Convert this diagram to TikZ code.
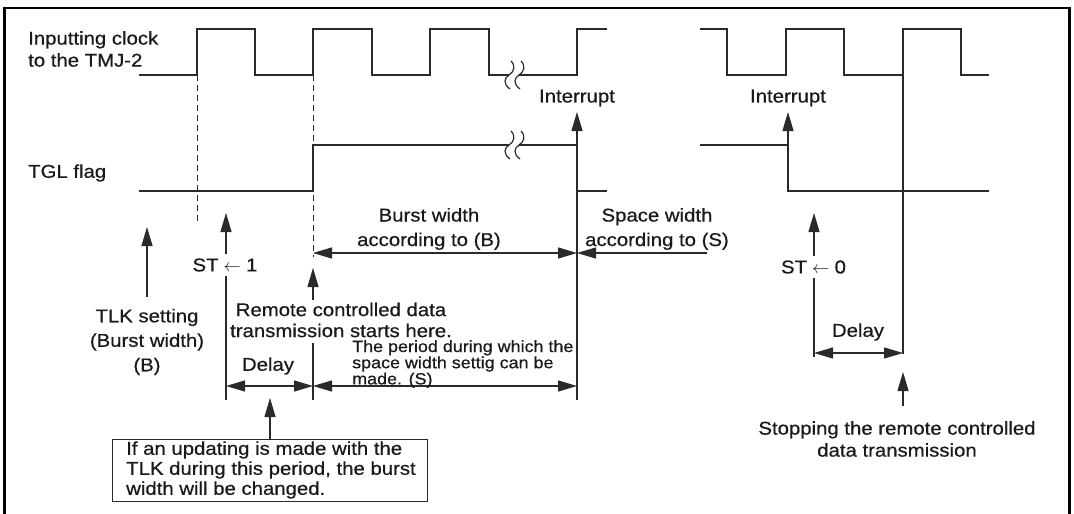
\documentclass[tikz,border=0pt]{standalone}
\usepackage{fontspec}
\setmainfont[FakeStretch=1.1,FakeBold=0.6]{Liberation Sans}
\usetikzlibrary{arrows.meta}
\definecolor{ink}{HTML}{2A2A2A}
\definecolor{txt}{HTML}{1A1A1A}
\tikzset{
  wave/.style={draw=ink, line width=1.5pt, line join=miter},
  thin/.style={draw=ink, line width=1.1pt},
  dash line/.style={draw=ink, line width=1pt, dash pattern=on 6pt off 4pt},
  tip/.style={-{Triangle[length=19pt,width=11pt]}},
  both tips/.style={{Triangle[length=19pt,width=11pt]}-{Triangle[length=19pt,width=11pt]}},
  lbl/.style={text=txt, font=\fontsize{18.5}{22}\selectfont, inner sep=0pt, align=center},
  small/.style={text=txt, font=\fontsize{16.3}{15}\selectfont, inner sep=0pt, align=left},
  brk/.pic={\draw[ink, line width=1.2pt] (2,-14) .. controls (7,-9) and (5,-3) .. (0,0) .. controls (-5,3) and (-6,9) .. (1,14);}
}
\begin{document}
\begin{tikzpicture}[x=1pt,y=-1pt]
\useasboundingbox (0,0) rectangle (1074,514);
% frame
\draw[line width=2.6pt, black] (4.5,516) -- (4.5,8) -- (1069.5,8) -- (1069.5,516);

% signal labels
\node[lbl, align=left, anchor=west] (clk) at (28,49) {Inputting clock\\to the TMJ-2};
\node[lbl, anchor=west] (tgl) at (28,173) {TGL flag};

% clock waveform (left)
\draw[wave] (139,75) -- (197,75) -- (197,29) -- (255,29) -- (255,75) -- (313,75) -- (313,29)
  -- (372,29) -- (372,75) -- (430,75) -- (430,29) -- (489,29) -- (489,75) -- (509,75);
\draw[wave] (519,75) -- (577,75) -- (577,29) -- (607,29);
\pic at (509,75) {brk};
\pic at (519,75) {brk};
% clock waveform (right)
\draw[wave] (700,29) -- (727,29) -- (727,75) -- (786,75) -- (786,29) -- (844,29) -- (844,75)
  -- (903,75) -- (903,29) -- (961,29) -- (961,75) -- (989,75);

% TGL flag (left)
\draw[wave] (139,191) -- (313,191) -- (313,145) -- (509,145);
\draw[wave] (519,145) -- (577,145) -- (577,191) -- (607,191);
\pic at (509,145) {brk};
\pic at (519,145) {brk};
% TGL flag (right)
\draw[wave] (700,145) -- (788,145) -- (788,191) -- (989,191);

% interrupts
\node[lbl] (int1) at (577,98) {Interrupt};
\node[lbl] (int2) at (788,98) {Interrupt};
\coordinate (i1) at (577,145);
\coordinate (i2) at (788,145);
\draw[thin, tip] (i1) -- (int1.south |- 0,112);
\draw[thin, tip] (i2) -- (int2.south |- 0,112);

% dashed guide lines
\coordinate (d1a) at (197,75); \coordinate (d1b) at (197,222);
\coordinate (d2a) at (313,75); \coordinate (d2b) at (313,257);
\draw[dash line] (d1a) -- (d1b);
\draw[dash line] (d2a) -- (d2b);

% vertical lines
\coordinate (e1a) at (577,191); \coordinate (e1b) at (577,400);
\draw[thin] (e1a) -- (e1b);
\coordinate (s0a) at (903,75); \coordinate (s0b) at (903,354);
\draw[thin] (s0a) -- (s0b);

% ST <- 1
\coordinate (st1b) at (226,400); \coordinate (st1t) at (226,213);
\draw[thin, tip] (st1b) -- (st1t);
\node[lbl, fill=white, inner ysep=4pt, inner xsep=0pt] (st1) at (225,265) {ST\;$\leftarrow$\;1};

% ST <- 0
\coordinate (st0b) at (814,357); \coordinate (st0t) at (814,213);
\draw[thin, tip] (st0b) -- (st0t);
\node[lbl, fill=white, inner ysep=4pt, inner xsep=0pt] (st0) at (813.5,267) {ST\;$\leftarrow$\;0};

% TLK setting
\node[lbl, font=\fontsize{18.5}{24.5}\selectfont] (tlk) at (147,342) {TLK setting\\(Burst width)\\(B)};
\coordinate (tlkt) at (147,227);
\draw[thin, tip] (tlk.north |- 0,297) -- (tlkt);

% Burst width
\coordinate (bw1) at (313,253); \coordinate (bw2) at (577,253);
\draw[thin, both tips] (bw1) -- (bw2);
\node[lbl, font=\fontsize{18.5}{24.5}\selectfont] (bwl) at (429,229) {Burst width\\according to (B)};

% Space width
\coordinate (sw1) at (707,253);
\draw[thin, tip] (sw1) -- (bw2);
\node[lbl, font=\fontsize{18.5}{24.5}\selectfont] (swl) at (657,229) {Space width\\according to (S)};

% Remote controlled data transmission starts here
\node[lbl, font=\fontsize{18.5}{21}\selectfont] (rem) at (341,320) {Remote controlled data\\transmission starts here.};
\coordinate (remt) at (313,268);
\draw[thin, tip] (313,300) -- (remt);
\draw[thin] (313,343) -- (313,400);

% Delay (left)
\coordinate (dl1) at (226,386); \coordinate (dl2) at (313,386);
\draw[thin, both tips] (dl1) -- (dl2);
\node[lbl] (dly1) at (268,366) {Delay};

% period for space width
\coordinate (pw2) at (577,386);
\draw[thin, both tips] (dl2) -- (pw2);
\node[small, anchor=north west] (per) at (352,340) {The period during which the\\space width settig can be\\made. (S)};

% callout box
\node[draw=ink, line width=1.1pt, minimum width=315pt, minimum height=62pt, inner sep=0pt, anchor=north west] (box) at (112,439) {};
\node[lbl, align=left, anchor=west, font=\fontsize{18.5}{20}\selectfont] (boxt) at (126,470) {If an updating is made with the\\TLK during this period, the burst\\width will be changed.};
\coordinate (boxtip) at (270,398);
\draw[thin, tip] (box.north -| boxtip) -- (boxtip);

% Delay (right)
\coordinate (dr1) at (814,353); \coordinate (dr2) at (903,353);
\draw[thin, both tips] (dr1) -- (dr2);
\node[lbl] (dly2) at (858,332) {Delay};

% stopping
\coordinate (stpt) at (903,372);
\draw[thin, tip] (903,406) -- (stpt);
\node[lbl] (stp) at (897,439) {Stopping the remote controlled\\data transmission};
\end{tikzpicture}
\end{document}
